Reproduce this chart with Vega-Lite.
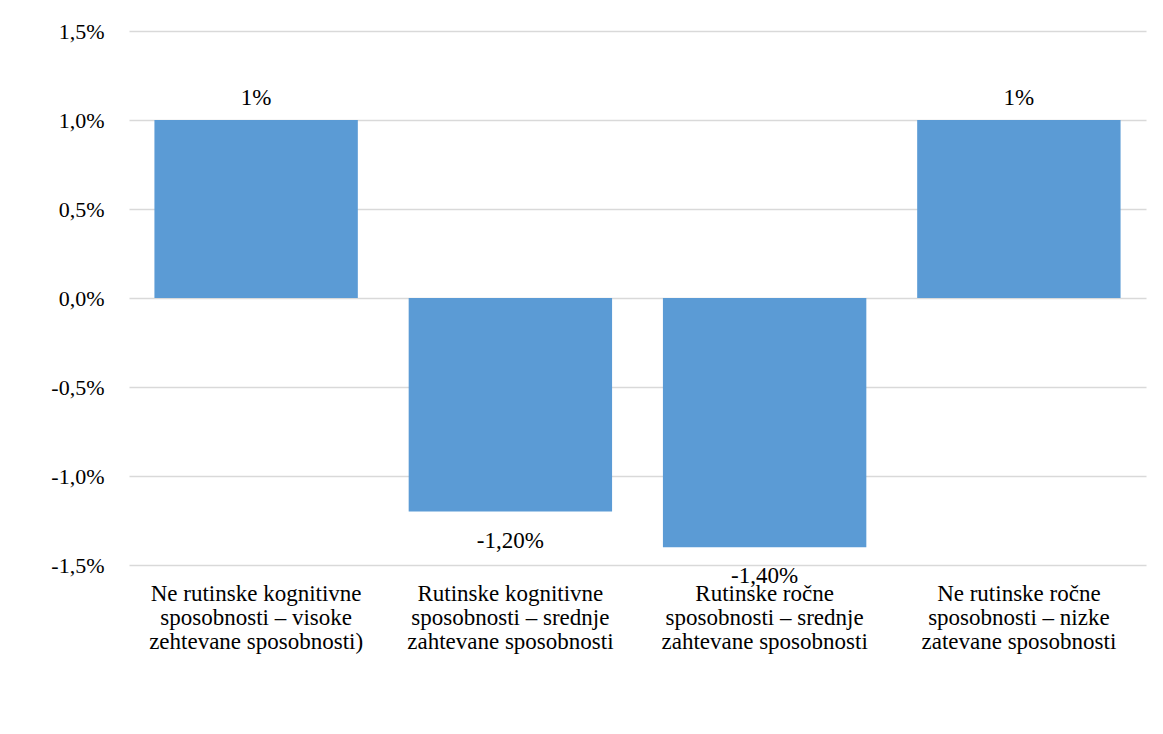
{
  "$schema": "https://vega.github.io/schema/vega-lite/v6.json",
  "width": 1017,
  "height": 534,
  "autosize": "none",
  "padding": {"left": 129, "top": 31, "right": 17, "bottom": 169},
  "background": "white",
  "config": {
    "locale": {"number": {"decimal": ",", "thousands": ".", "grouping": [3], "currency": ["", " €"], "minus": "-"}},
    "view": {"stroke": null},
    "font": "Liberation Serif"
  },
  "data": {
    "values": [
      {"kategorija": "Ne rutinske kognitivne|sposobnosti – visoke|zehtevane sposobnosti)", "vrednost": 0.01, "oznaka": "1%"},
      {"kategorija": "Rutinske kognitivne|sposobnosti – srednje|zahtevane sposobnosti", "vrednost": -0.012, "oznaka": "-1,20%"},
      {"kategorija": "Rutinske ročne|sposobnosti – srednje|zahtevane sposobnosti", "vrednost": -0.014, "oznaka": "-1,40%"},
      {"kategorija": "Ne rutinske ročne|sposobnosti – nizke|zatevane sposobnosti", "vrednost": 0.01, "oznaka": "1%"}
    ]
  },
  "encoding": {
    "x": {
      "field": "kategorija",
      "type": "nominal",
      "sort": null,
      "scale": {"paddingInner": 0.2, "paddingOuter": 0.1},
      "axis": {
        "title": null,
        "labelExpr": "split(datum.label, '|')",
        "labelAngle": 0,
        "labelFont": "Liberation Serif",
        "labelFontSize": 23,
        "labelColor": "#000000",
        "labelLineHeight": 24,
        "labelPadding": 17,
        "labelBaseline": "top",
        "labelLimit": 300,
        "domain": false,
        "ticks": false,
        "orient": "bottom"
      }
    },
    "y": {
      "field": "vrednost",
      "type": "quantitative",
      "scale": {"domain": [-0.015, 0.015], "nice": false},
      "axis": {
        "title": null,
        "format": ".1%",
        "values": [-0.015, -0.01, -0.005, 0, 0.005, 0.01, 0.015],
        "labelFont": "Liberation Serif",
        "labelFontSize": 22,
        "labelColor": "#000000",
        "labelPadding": 25,
        "domain": false,
        "ticks": false,
        "grid": true,
        "gridColor": "#D9D9D9",
        "gridWidth": 1.5
      }
    }
  },
  "layer": [
    {
      "mark": {"type": "bar", "color": "#5B9BD5"}
    },
    {
      "transform": [{"filter": "datum.vrednost >= 0"}],
      "mark": {"type": "text", "font": "Liberation Serif", "fontSize": 23, "color": "#000000", "baseline": "alphabetic", "dy": -15},
      "encoding": {"text": {"field": "oznaka"}}
    },
    {
      "transform": [{"filter": "datum.vrednost < 0"}],
      "mark": {"type": "text", "font": "Liberation Serif", "fontSize": 23, "color": "#000000", "baseline": "alphabetic", "dy": 36},
      "encoding": {"text": {"field": "oznaka"}}
    }
  ]
}
